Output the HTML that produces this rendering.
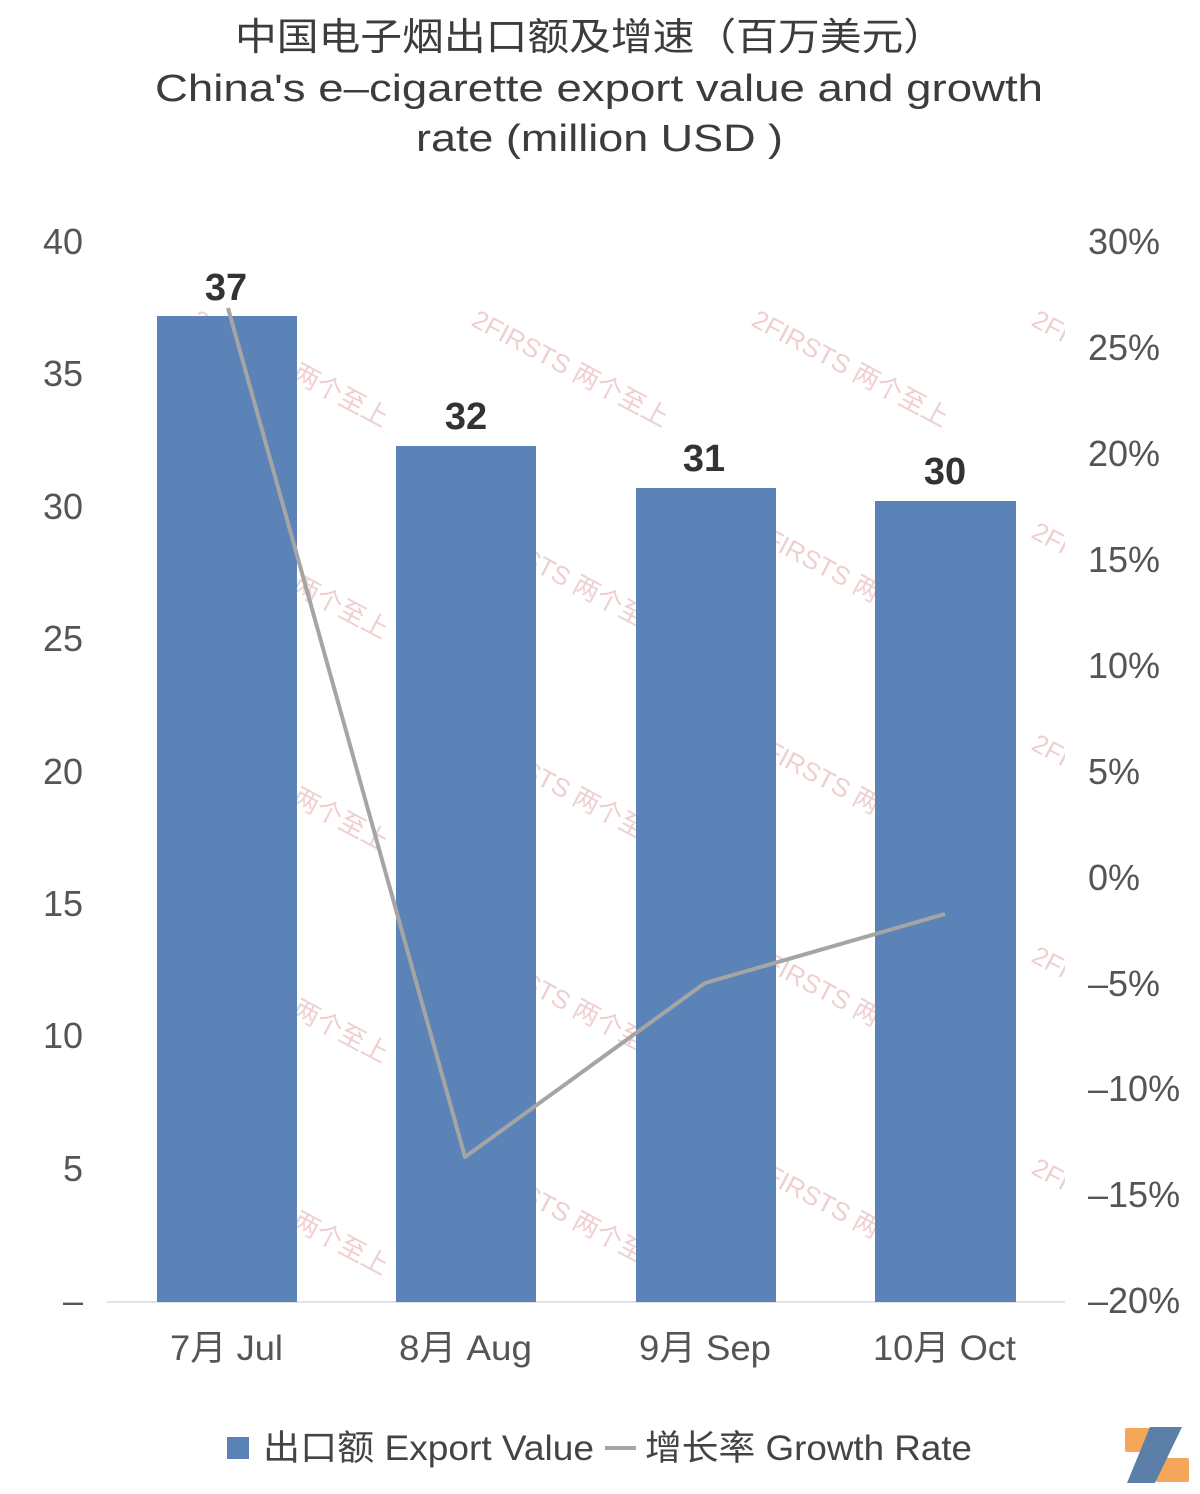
<!DOCTYPE html>
<html><head><meta charset="utf-8"><style>
body{margin:0;background:#fff;}
svg{display:block;font-family:"Liberation Sans","Noto Sans CJK SC",sans-serif;}
</style></head><body>
<svg width="1200" height="1494" viewBox="0 0 1200 1494" xmlns="http://www.w3.org/2000/svg">
<defs><clipPath id="pc"><rect x="130" y="270" width="935" height="1030"/></clipPath></defs>
<rect width="1200" height="1494" fill="#fff"/>
<g fill="#3c3c3c" font-size="38">
<text x="235" y="50" textLength="710" lengthAdjust="spacingAndGlyphs">中国电子烟出口额及增速（百万美元）</text>
<text x="155" y="101" textLength="888" lengthAdjust="spacingAndGlyphs">China's e–cigarette export value and growth</text>
<text x="416" y="151" textLength="367" lengthAdjust="spacingAndGlyphs">rate (million USD )</text>
</g>
<g fill="#efcfcf" font-size="26" clip-path="url(#pc)">
<g transform="translate(470,325) rotate(28)"><text x="0" y="0">2FIRSTS 两个至上</text></g>
<g transform="translate(750,325) rotate(28)"><text x="0" y="0">2FIRSTS 两个至上</text></g>
<g transform="translate(1030,325) rotate(28)"><text x="0" y="0">2FIRSTS 两个至上</text></g>
<g transform="translate(190,325) rotate(28)"><text x="0" y="0">2FIRSTS 两个至上</text></g>
<g transform="translate(470,537) rotate(28)"><text x="0" y="0">2FIRSTS 两个至上</text></g>
<g transform="translate(750,537) rotate(28)"><text x="0" y="0">2FIRSTS 两个至上</text></g>
<g transform="translate(1030,537) rotate(28)"><text x="0" y="0">2FIRSTS 两个至上</text></g>
<g transform="translate(190,537) rotate(28)"><text x="0" y="0">2FIRSTS 两个至上</text></g>
<g transform="translate(470,749) rotate(28)"><text x="0" y="0">2FIRSTS 两个至上</text></g>
<g transform="translate(750,749) rotate(28)"><text x="0" y="0">2FIRSTS 两个至上</text></g>
<g transform="translate(1030,749) rotate(28)"><text x="0" y="0">2FIRSTS 两个至上</text></g>
<g transform="translate(190,749) rotate(28)"><text x="0" y="0">2FIRSTS 两个至上</text></g>
<g transform="translate(470,961) rotate(28)"><text x="0" y="0">2FIRSTS 两个至上</text></g>
<g transform="translate(750,961) rotate(28)"><text x="0" y="0">2FIRSTS 两个至上</text></g>
<g transform="translate(1030,961) rotate(28)"><text x="0" y="0">2FIRSTS 两个至上</text></g>
<g transform="translate(190,961) rotate(28)"><text x="0" y="0">2FIRSTS 两个至上</text></g>
<g transform="translate(470,1173) rotate(28)"><text x="0" y="0">2FIRSTS 两个至上</text></g>
<g transform="translate(750,1173) rotate(28)"><text x="0" y="0">2FIRSTS 两个至上</text></g>
<g transform="translate(1030,1173) rotate(28)"><text x="0" y="0">2FIRSTS 两个至上</text></g>
<g transform="translate(190,1173) rotate(28)"><text x="0" y="0">2FIRSTS 两个至上</text></g>
</g>
<line x1="107" y1="1302" x2="1065" y2="1302" stroke="#d9d9d9" stroke-width="1.5"/>
<g fill="#5b83b7">
<rect x="157" y="316" width="140" height="986"/>
<rect x="396" y="446" width="140" height="856"/>
<rect x="636" y="488" width="140" height="814"/>
<rect x="875" y="501" width="141" height="801"/>
</g>
<polyline points="228,308 465,1157 705,983 945,914" fill="none" stroke="#a5a5a5" stroke-width="4" stroke-linejoin="round"/>
<g fill="#333" font-size="38" font-weight="bold" text-anchor="middle">
<text x="226" y="300">37</text><text x="466" y="429">32</text><text x="704" y="471">31</text><text x="945" y="484">30</text>
</g>
<g fill="#555" font-size="36" text-anchor="end">
<text x="83" y="254">40</text><text x="83" y="386">35</text><text x="83" y="519">30</text><text x="83" y="651">25</text>
<text x="83" y="784">20</text><text x="83" y="916">15</text><text x="83" y="1048">10</text><text x="83" y="1181">5</text>
<text x="83" y="1313">–</text>
</g>
<g fill="#555" font-size="36" text-anchor="start">
<text x="1088" y="254">30%</text><text x="1088" y="360">25%</text><text x="1088" y="466">20%</text><text x="1088" y="572">15%</text>
<text x="1088" y="678">10%</text><text x="1088" y="784">5%</text><text x="1088" y="890">0%</text><text x="1088" y="996">–5%</text>
<text x="1088" y="1101">–10%</text><text x="1088" y="1207">–15%</text><text x="1088" y="1313">–20%</text>
</g>
<g fill="#555" font-size="35">
<text x="170" y="1360" textLength="113" lengthAdjust="spacingAndGlyphs">7月 Jul</text>
<text x="399" y="1360" textLength="133" lengthAdjust="spacingAndGlyphs">8月 Aug</text>
<text x="639" y="1360" textLength="132" lengthAdjust="spacingAndGlyphs">9月 Sep</text>
<text x="873" y="1360" textLength="143" lengthAdjust="spacingAndGlyphs">10月 Oct</text>
</g>
<rect x="227" y="1437" width="22" height="22" fill="#5b83b7"/>
<text x="263" y="1460" fill="#444" font-size="35" textLength="331" lengthAdjust="spacingAndGlyphs">出口额 Export Value</text>
<line x1="605" y1="1448" x2="636" y2="1448" stroke="#a5a5a5" stroke-width="4"/>
<text x="645" y="1460" fill="#444" font-size="35" textLength="327" lengthAdjust="spacingAndGlyphs">增长率 Growth Rate</text>
<g>
<rect x="1125" y="1428" width="32" height="24" fill="#f4a65a" rx="2"/>
<rect x="1156" y="1458" width="33" height="24" fill="#f4a65a" rx="2"/>
<polygon points="1150,1427 1182,1427 1155,1483 1127,1483" fill="#5b7fa6"/>
</g>
</svg>
</body></html>
